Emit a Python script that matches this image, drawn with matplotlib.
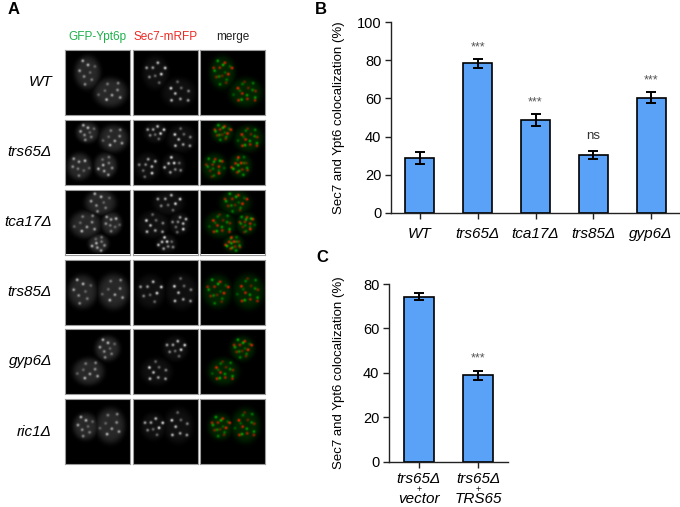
import numpy as np
import matplotlib
matplotlib.use("Agg")
import matplotlib.pyplot as plt

plt.rcParams['font.family'] = ['Liberation Sans', 'DejaVu Sans']

W, H = 680, 507

# ---- data ----
strains_b = ['WT', 'trs65Δ', 'tca17Δ', 'trs85Δ', 'gyp6Δ']
coloc_b = [28.8, 78.4, 48.7, 30.4, 60.4]
err_b = [3.0, 2.3, 3.3, 2.2, 3.0]
sig_b = ['', '***', '***', 'ns', '***']

strains_c_top = ['trs65Δ', 'trs65Δ']
strains_c_bottom = ['vector', 'TRS65']
coloc_c = [74.3, 39.0]
err_c = [1.7, 2.0]
sig_c = ['', '***']

row_labels = ['WT', 'trs65Δ', 'tca17Δ', 'trs85Δ', 'gyp6Δ', 'ric1Δ']
col_labels = ['GFP-Ypt6p', 'Sec7-mRFP', 'merge']
col_colors = ['#1db04b', '#ee2a24', '#222222']

# rough cell outlines seen in each micrograph row: (cx, cy, rx, ry) in panel pixels
cells = [
    [(22, 22, 12.5, 16), (45, 42, 16, 14)],
    [(22, 12, 11, 10), (48, 18, 14, 13), (14, 46, 12, 13), (40, 45, 11, 12)],
    [(35, 13, 15, 12), (20, 35, 15, 13), (46, 34, 10, 11), (33, 54, 10, 9)],
    [(17, 31, 14, 16), (48, 31, 15, 17)],
    [(42, 19, 12, 12), (23, 42, 15, 13)],
    [(20, 27, 12, 13), (45, 26, 14, 17)],
]

BAR_COLOR = '#5aa2f8'


def px_axes(fig, x0, y0, w, h):
    return fig.add_axes([x0 / W, 1 - (y0 + h) / H, w / W, h / H])


def micrograph(cell_list, size=65):
    yy, xx = np.mgrid[0:size, 0:size].astype(float)
    body = np.zeros((size, size))
    gfp_spots = np.zeros((size, size))
    rfp_spots = np.zeros((size, size))
    for k, (cx, cy, rx, ry) in enumerate(cell_list):
        d = ((xx - cx) / rx) ** 2 + ((yy - cy) / ry) ** 2
        body = np.maximum(body, np.exp(-d ** 2.5) * (0.75 + 0.25 * np.clip(d, 0, 1)))
        n = 8
        for i in range(n):
            r = 0.85 * np.sqrt((i + 0.5) / n)
            amp = 0.45 + 0.55 * ((i * 7 + k * 3) % 5) / 4
            for phase, tgt in ((k * 1.1, gfp_spots), (k * 1.1 + 1.7, rfp_spots)):
                th = i * 2.39996 + phase
                sx = cx + r * rx * np.cos(th)
                sy = cy + r * ry * np.sin(th)
                tgt += amp * np.exp(-((xx - sx) ** 2 + (yy - sy) ** 2) / (2 * 1.1 ** 2))
    gfp = np.clip(0.2 * body + 0.5 * gfp_spots, 0, 1)
    rfp = np.clip(0.08 * body + 0.7 * rfp_spots, 0, 1)
    merge = np.dstack([np.clip(rfp * 1.1 - 0.06, 0, 1), np.clip(gfp * 0.9, 0, 1),
                       np.zeros_like(gfp)])
    return gfp, rfp, merge


fig = plt.figure(figsize=(W / 100, H / 100), dpi=100)

# ---- panel A ----
fig.text(8 / W, 1 - 10 / H, 'A', fontsize=12, fontweight='bold', va='center')
col_x = [65, 133, 200]
row_y = [50, 120, 189.5, 260, 329, 399]
size = 65
for j, (lab, c) in enumerate(zip(col_labels, col_colors)):
    fig.text((col_x[j] + size / 2) / W, 1 - 37 / H, lab, color=c,
             fontsize=8.5, ha='center', va='center')
for i, lab in enumerate(row_labels):
    fig.text(52 / W, 1 - (row_y[i] + size / 2) / H, lab, fontsize=11,
             style='italic', ha='right', va='center')
    imgs = micrograph(cells[i])
    for j in range(3):
        ax = px_axes(fig, col_x[j], row_y[i], size, size)
        if j < 2:
            ax.imshow(imgs[j], cmap='gray', vmin=0, vmax=1, interpolation='bilinear')
        else:
            ax.imshow(imgs[j], interpolation='bilinear')
        ax.set_xticks([])
        ax.set_yticks([])
        for s in ax.spines.values():
            s.set_color('#9a9a9a')
            s.set_linewidth(0.8)


def style_bar_axes(ax, label_x):
    ax.spines['top'].set_visible(False)
    ax.spines['right'].set_visible(False)
    for s in ('left', 'bottom'):
        ax.spines[s].set_linewidth(1.0)
        ax.spines[s].set_color('#222222')
    ax.tick_params(axis='both', direction='out', length=4, width=1.0,
                   labelsize=10.5, pad=3, color='#222222')
    ax.set_ylabel('Sec7 and Ypt6 colocalization (%)', fontsize=9.5)
    ax.yaxis.set_label_coords(label_x, 0.5)


# ---- panel B ----
fig.text(315 / W, 1 - 9 / H, 'B', fontsize=12, fontweight='bold', va='center')
axb = px_axes(fig, 391, 22, 289, 191)
xb = np.arange(len(strains_b))
axb.bar(xb, coloc_b, width=0.5, color=BAR_COLOR, edgecolor='black', linewidth=1.2, zorder=2)
axb.errorbar(xb, coloc_b, yerr=err_b, fmt='none', ecolor='black', elinewidth=1.4,
             capsize=3.5, capthick=1.4, zorder=3)
for x, v, e, s in zip(xb, coloc_b, err_b, sig_b):
    if s == 'ns':
        axb.text(x, v + e + 7.5, s, ha='center', va='center', fontsize=9.5, color='#333333')
    elif s:
        axb.text(x, v + e + 6.0, s, ha='center', va='center', fontsize=9, color='#555555')
axb.set_xlim(-0.5, 4.5)
axb.set_ylim(0, 100)
axb.set_yticks([0, 20, 40, 60, 80, 100])
axb.set_xticks(xb)
style_bar_axes(axb, -0.16)
axb.set_xticklabels(strains_b, style='italic', fontsize=11)
axb.tick_params(axis='x', pad=6)

# ---- panel C ----
fig.text(316 / W, 1 - 258 / H, 'C', fontsize=12, fontweight='bold', va='center')
axc = px_axes(fig, 389, 284, 119, 177.7)
xc = np.arange(len(coloc_c))
axc.bar(xc, coloc_c, width=0.5, color=BAR_COLOR, edgecolor='black', linewidth=1.2, zorder=2)
axc.errorbar(xc, coloc_c, yerr=err_c, fmt='none', ecolor='black', elinewidth=1.4,
             capsize=3.5, capthick=1.4, zorder=3)
for x, v, e, s in zip(xc, coloc_c, err_c, sig_c):
    if s:
        axc.text(x, v + e + 5.5, s, ha='center', va='center', fontsize=9, color='#555555')
axc.set_xlim(-0.5, 1.5)
axc.set_ylim(0, 80)
axc.set_yticks([0, 20, 40, 60, 80])
axc.set_xticks(xc)
axc.set_xticklabels([''] * len(xc))
style_bar_axes(axc, -0.37)
tr = axc.get_xaxis_transform()
for x, t, b in zip(xc, strains_c_top, strains_c_bottom):
    axc.text(x, -17.5 / 177.7, t, transform=tr, ha='center', va='center',
             fontsize=11, style='italic')
    axc.text(x, -27.5 / 177.7, '+', transform=tr, ha='center', va='center',
             fontsize=6.5)
    axc.text(x, -37.5 / 177.7, b, transform=tr, ha='center', va='center',
             fontsize=11, style='italic')

fig.savefig('out.png', dpi=100)
